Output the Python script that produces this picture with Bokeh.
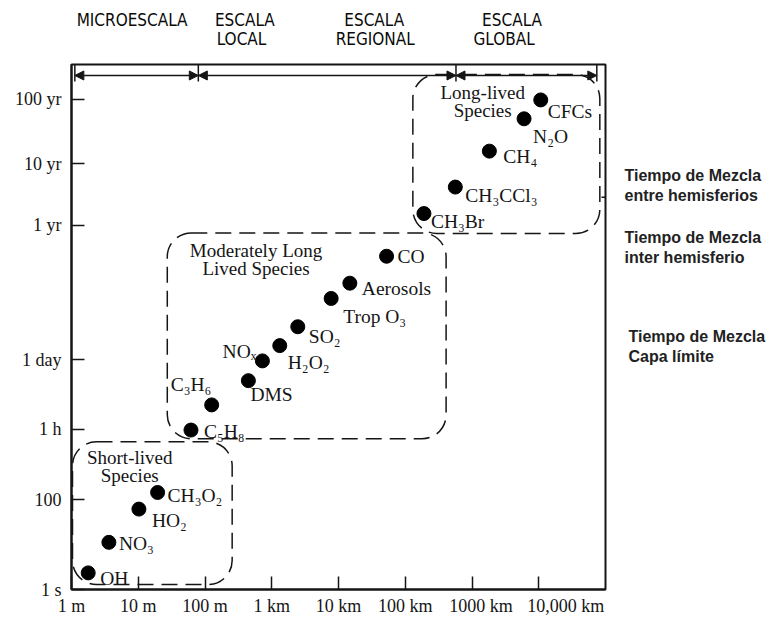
from bokeh.plotting import figure
from bokeh.models import (ColumnDataSource, FixedTicker, BoxAnnotation, Arrow,
                          NormalHead, Range1d)
from bokeh.layouts import column, row
from bokeh.core.properties import value
from bokeh.embed import file_html
from bokeh.resources import INLINE

# ---------------- data (read from the schematic) ----------------
# x: log10(spatial scale in metres); y: position on the schematic time axis
species = ["OH", "NO\u2083", "HO\u2082", "CH\u2083O\u2082", "C\u2085H\u2088", "C\u2083H\u2086",
           "DMS", "NO\u2093", "H\u2082O\u2082", "SO\u2082", "Trop  O\u2083", "Aerosols", "CO",
           "CH\u2083Br", "CH\u2083CCl\u2083", "CH\u2084", "N\u2082O", "CFCs"]
space_log10_m = [0.25, 0.56, 1.01, 1.29, 1.79, 2.10, 2.65, 2.86, 3.12, 3.39, 3.89, 4.17,
                 4.72, 5.28, 5.75, 6.26, 6.78, 7.03]
time_pos = [0.37, 1.05, 1.79, 2.16, 3.55, 4.11, 4.65, 5.09, 5.43, 5.85, 6.48, 6.82,
            7.42, 8.37, 8.96, 9.76, 10.48, 10.90]

x_tick_vals = [0, 1, 2, 3, 4, 5, 6, 7]
x_tick_labels = ["1 m", "10 m", "100 m", "1 km", "10 km", "100 km",
                 "\u2007\u20071000 km", "\u2007\u2007\u2007\u2007\u2007\u200710,000 km"]
y_tick_vals = [0.0, 2.0, 3.57, 5.11, 8.11, 9.48, 10.91]
y_tick_labels = ["1 s", "100", "1 h", "1 day", "1 yr", "10 yr", "100 yr"]

group_names = [["Short-lived", "Species"], ["Moderately  Long", "Lived  Species"],
               ["Long-lived", "Species"]]
box_left = [0.015, 1.435, 5.114]
box_right = [2.407, 5.612, 7.915]
box_bottom = [0.111, 3.356, 7.927]
box_top = [3.289, 7.940, 11.467]

scale_bounds = [0.05, 1.90, 5.76, 7.87]   # log10 m, separators of the scale bands
scale_names = [["MICROESCALA"], ["ESCALA", "LOCAL"], ["ESCALA", "REGIONAL"],
               ["ESCALA", "GLOBAL"]]
scale_name_x = [[0.908], [2.597, 2.547], [4.535, 4.55], [6.60, 6.48]]

mixing_notes = [["Tiempo de Mezcla", "entre hemisferios"],
                ["Tiempo de Mezcla", "inter hemisferio"],
                ["Tiempo de Mezcla", "Capa l\u00edmite"]]
mixing_note_y = [9.222, 7.844, 5.622]
mixing_level = [8.733]

# ---------------- layout / style ----------------
X_MAX, Y_MAX = 8.0, 11.689
PX_X, PX_Y = 66.75, 45.0           # pixels per data unit in the main frame
INK = "#151515"
SERIF = "Liberation Serif"
NARROW = "DejaVu Sans Condensed, Roboto"

# label offsets in screen px (dx, dy) and alignment per species
lab_dx = [12, 10, 13, 10, 13, -41, 2, -6, 8, 11, 12, 12, 11, 7, 10, 14, 9, 7]
lab_dy = [6, 1, 11, 3, 1, -20, 14, -9, 17, 10, 18, 5, 0, 8, 8, 5, 18, 12]
lab_align = ["left"] * len(species)
lab_align[7] = "right"

x_range = Range1d(0, X_MAX)
y_range = Range1d(0, Y_MAX)

p = figure(width=611, height=560, x_range=x_range, y_range=y_range,
           output_backend="svg", toolbar_location=None,
           min_border_left=71, min_border_right=6, min_border_top=6,
           min_border_bottom=28)
p.xgrid.visible = False
p.ygrid.visible = False
p.outline_line_color = INK
p.outline_line_width = 2

for ax in (p.xaxis[0], p.yaxis[0]):
    ax.axis_line_color = INK
    ax.axis_line_width = 2
    ax.major_tick_in = 13
    ax.major_tick_out = 0
    ax.major_tick_line_color = INK
    ax.major_tick_line_width = 1.5
    ax.minor_tick_line_color = None
    ax.major_label_text_font = SERIF
    ax.major_label_text_font_size = "18px"
    ax.major_label_text_color = INK

p.xaxis.ticker = FixedTicker(ticks=x_tick_vals)
p.xaxis.major_label_overrides = dict(zip(x_tick_vals, x_tick_labels))
p.xaxis.major_label_standoff = 6
p.yaxis.ticker = FixedTicker(ticks=y_tick_vals)
p.yaxis.major_label_overrides = dict(zip(y_tick_vals, y_tick_labels))
p.yaxis.major_label_standoff = 10

# right-hand marker tick (mixing time)
for lv in mixing_level:
    p.add_layout(Arrow(x_start=X_MAX - 4 / PX_X, x_end=X_MAX + 4 / PX_X,
                       y_start=lv, y_end=lv, line_color=INK, line_width=1.5,
                       start=None, end=None))

# dashed rounded group boxes
for l, r, b, t in zip(box_left, box_right, box_bottom, box_top):
    p.add_layout(BoxAnnotation(left=l, right=r, bottom=b, top=t, fill_color=None,
                               line_color=INK, line_alpha=1.0, line_width=1.5,
                               line_dash="16 8", border_radius=24))

# group titles
gx, gy, gt = [], [], []
centers = [0.872, 2.80, 6.16]
tops = [2.949, 7.556, 11.073]
for c, tp, names in zip(centers, tops, group_names):
    for k, n in enumerate(names):
        gx.append(c)
        gy.append(tp - k * 0.40)
        gt.append(n)
p.text(x=gx, y=gy, text=gt, text_font=value(SERIF), text_font_size="19px",
       text_align="center", text_baseline="middle", text_color=INK)

# species dots + labels
src = ColumnDataSource(dict(x=space_log10_m, y=time_pos, name=species,
                            dx=lab_dx, dy=lab_dy, align=lab_align))
p.scatter("x", "y", source=src, size=14, color="black")
p.text("x", "y", text="name", source=src, x_offset="dx", y_offset="dy",
       text_align="align", text_baseline="middle", text_font=value(SERIF),
       text_font_size="19.5px", text_color=INK)

# scale band arrows across the top
ARROW_Y = Y_MAX - 11 / PX_Y
for a, b in zip(scale_bounds[:-1], scale_bounds[1:]):
    p.add_layout(Arrow(x_start=a, x_end=b, y_start=ARROW_Y, y_end=ARROW_Y,
                       line_color=INK, line_width=1.5,
                       start=NormalHead(size=9, fill_color=INK, line_color=INK),
                       end=NormalHead(size=9, fill_color=INK, line_color=INK)))
for s in scale_bounds:
    p.add_layout(Arrow(x_start=s, x_end=s, y_start=Y_MAX - 17 / PX_Y,
                       y_end=Y_MAX + 4 / PX_Y, line_color=INK, line_width=1.5,
                       start=None, end=None))

# ---------- strip above: scale names ----------
top = figure(width=773, height=58, x_range=x_range,
             y_range=Range1d(Y_MAX + 6 / PX_Y, Y_MAX + 64 / PX_Y),
             output_backend="svg", toolbar_location=None,
             x_axis_location=None, y_axis_location=None,
             min_border_left=71, min_border_right=168, min_border_top=0,
             min_border_bottom=0)
top.xgrid.visible = False
top.ygrid.visible = False
top.outline_line_color = None
tx, ty, tt = [], [], []
for names, xs in zip(scale_names, scale_name_x):
    for k, (n, x) in enumerate(zip(names, xs)):
        tx.append(x)
        ty.append(Y_MAX + (64 - 19.7 - 18.6 * k) / PX_Y)
        tt.append(n)
top.text(x=tx, y=ty, text=tt, text_font=value(NARROW),
         text_font_size="17px", text_align="center", text_baseline="middle",
         text_color="#0a0a0a")

# ---------- strip on the right: mixing-time notes ----------
right = figure(width=162, height=560,
               x_range=Range1d(X_MAX + 6 / PX_X, X_MAX + 168 / PX_X), y_range=y_range,
               output_backend="svg", toolbar_location=None,
               x_axis_location=None, y_axis_location=None,
               min_border_left=0, min_border_right=0, min_border_top=6,
               min_border_bottom=28)
right.xgrid.visible = False
right.ygrid.visible = False
right.outline_line_color = None
rx, ry, rt = [], [], []
for k, (lines, y0) in enumerate(zip(mixing_notes, mixing_note_y)):
    for j, ln in enumerate(lines):
        rx.append(X_MAX + (19 if k < 2 else 23) / PX_X)
        ry.append(y0 - j * 20 / PX_Y)
        rt.append(ln)
right.text(x=rx, y=ry, text=rt, text_font=value("Liberation Sans"),
           text_font_size="16px", text_font_style="bold", text_align="left",
           text_baseline="middle", text_color="#222222")

layout = column(top, row(p, right, spacing=0), spacing=0)
open("out.html", "w").write(file_html(layout, INLINE))
